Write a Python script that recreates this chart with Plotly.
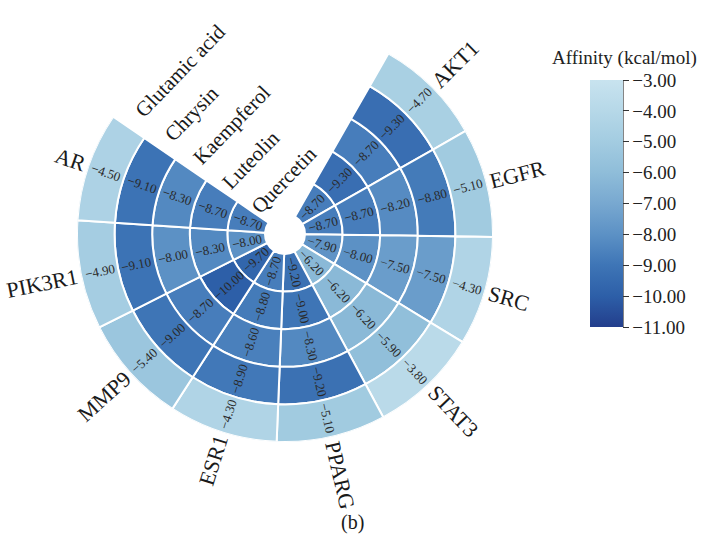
import math
import plotly.graph_objects as go

# ---- data -------------------------------------------------------------
targets = ["AKT1", "EGFR", "SRC", "STAT3", "PPARG", "ESR1", "MMP9", "PIK3R1", "AR"]
ligands = ["Quercetin", "Luteolin", "Kaempferol", "Chrysin", "Glutamic acid"]

quercetin = [-8.70, -8.70, -7.90, -6.20, -9.20, -8.70, -9.70, -8.00, -8.70]
luteolin = [-9.30, -8.70, -8.00, -6.20, -9.00, -8.80, -10.00, -8.30, -8.70]
kaempferol = [-8.70, -8.20, -7.50, -6.20, -8.30, -8.60, -8.70, -8.00, -8.30]
chrysin = [-9.30, -8.80, -7.50, -5.90, -9.20, -8.90, -9.00, -9.10, -9.10]
glutamic_acid = [-4.70, -5.10, -4.30, -3.80, -5.10, -4.30, -5.40, -4.90, -4.50]

rings = [quercetin, luteolin, kaempferol, chrysin, glutamic_acid]
cbar_ticks = [-3, -4, -5, -6, -7, -8, -9, -10, -11]

# ---- geometry ---------------------------------------------------------
W, H = 705, 543
CX, CY = 285, 234          # centre of the polar plot (px)
R_OUT = 208                # outer radius (px) == radial range max
HOLE = 20                  # inner hole radius
RING = (R_OUT - HOLE) / len(rings)
START = 29.8               # angle where the first wedge starts (deg, clockwise from north)
SPAN = 30.5                # angular width of each wedge
centers = [START + SPAN * (i + 0.5) for i in range(len(targets))]

# colour bar box (px)
CB_X0, CB_TOP, CB_BOT, CB_THICK = 590, 80, 327, 33

FONT = "Liberation Serif, Times New Roman, DejaVu Serif, serif"
LABEL_SIZE = 22

colorscale = [
    [0.000, "rgb(35,62,140)"],
    [0.125, "rgb(45,95,168)"],
    [0.250, "rgb(62,117,182)"],
    [0.375, "rgb(92,145,197)"],
    [0.500, "rgb(120,168,208)"],
    [0.625, "rgb(143,189,217)"],
    [0.750, "rgb(163,204,225)"],
    [0.875, "rgb(182,216,232)"],
    [1.000, "rgb(200,227,239)"],
]

# Times-compatible advance widths (per em) for sizing rotated labels
_W = {" ": .25, "(": .333, ")": .333, "/": .278, "−": .564, ".": .25,
      "A": .722, "C": .667, "E": .611, "F": .556, "G": .722, "I": .333, "K": .722,
      "L": .611, "M": .889, "P": .556, "Q": .722, "R": .667, "S": .556, "T": .611,
      "a": .444, "c": .444, "d": .5, "e": .444, "f": .333, "h": .5, "i": .278,
      "k": .5, "l": .278, "m": .778, "n": .5, "o": .5, "p": .5, "r": .333,
      "s": .389, "t": .278, "u": .5, "y": .5}


def text_width(s, size):
    return sum(_W.get(ch, .5) for ch in s) * size


def to_paper(r, theta):
    t = math.radians(theta)
    px = CX + r * math.sin(t)
    py = CY - r * math.cos(t)
    return px / W, 1 - py / H


def radial_angle(theta):
    th = theta % 360
    return th - 90 if th < 180 else th - 270


def fmt(v):
    return f"{v:.2f}".replace("-", "−")


fig = go.Figure()

for k, (name, vals) in enumerate(zip(ligands, rings)):
    fig.add_trace(go.Barpolar(
        name=name,
        theta=centers,
        r=[RING] * len(vals),
        base=[HOLE + k * RING] * len(vals),
        width=[SPAN] * len(vals),
        marker=dict(
            color=vals,
            colorscale=colorscale,
            cmin=-11, cmax=-3,
            line=dict(color="white", width=2),
            showscale=(k == 0),
            colorbar=dict(
                tickvals=cbar_ticks,
                ticktext=[fmt(v) for v in cbar_ticks],
                ticks="outside", ticklen=6, tickwidth=1, tickcolor="#333",
                tickfont=dict(family=FONT, size=19, color="#222"),
                outlinewidth=0,
                thicknessmode="pixels", thickness=CB_THICK,
                lenmode="pixels", len=CB_BOT - CB_TOP,
                x=CB_X0 / W, xanchor="left", xpad=0,
                y=1 - CB_TOP / H, yanchor="top", ypad=0,
            ),
        ),
        hoverinfo="skip",
    ))

annotations = []

# value labels inside each cell
for k, vals in enumerate(rings):
    rm = HOLE + (k + 0.5) * RING
    for th, v in zip(centers, vals):
        x, y = to_paper(rm, th)
        annotations.append(dict(
            x=x, y=y, xref="paper", yref="paper", text=fmt(v), showarrow=False,
            textangle=radial_angle(th), xanchor="center", yanchor="middle",
            font=dict(family=FONT, size=13, color="#2a2a2a"),
        ))

# target names outside the outer ring
for th, name in zip(centers, targets):
    w = text_width(name, LABEL_SIZE)
    x, y = to_paper(R_OUT + 4 + w / 2, th)
    annotations.append(dict(
        x=x, y=y, xref="paper", yref="paper", text=name, showarrow=False,
        textangle=radial_angle(th), xanchor="center", yanchor="middle",
        font=dict(family=FONT, size=LABEL_SIZE, color="#1a1a1a"),
    ))

# ligand names in the open sector
LIG_ANGLE = START + SPAN * len(targets) + 5.2
LIG_TILT = -46
for k, name in enumerate(ligands):
    rm = HOLE + (k + 0.5) * RING
    t = math.radians(LIG_ANGLE)
    sx, sy = CX + rm * math.sin(t), CY - rm * math.cos(t)
    w = text_width(name, 21)
    a = math.radians(LIG_TILT)
    cx_ = sx + (w / 2) * math.cos(a)
    cy_ = sy + (w / 2) * math.sin(a)
    annotations.append(dict(
        x=cx_ / W, y=1 - cy_ / H, xref="paper", yref="paper", text=name,
        showarrow=False, textangle=LIG_TILT, xanchor="center", yanchor="middle",
        font=dict(family=FONT, size=21, color="#1a1a1a"),
    ))

# colour bar title
annotations.append(dict(
    x=624 / W, y=1 - 58 / H, xref="paper", yref="paper",
    text="Affinity (kcal/mol)", showarrow=False,
    xanchor="center", yanchor="middle",
    font=dict(family=FONT, size=19, color="#222"),
))

annotations.append(dict(
    x=353 / W, y=1 - 522 / H, xref="paper", yref="paper", text="(b)",
    showarrow=False, xanchor="center", yanchor="middle",
    font=dict(family=FONT, size=20, color="#1a1a1a"),
))

fig.update_layout(
    width=W, height=H,
    margin=dict(l=0, r=0, t=0, b=0, autoexpand=False),
    paper_bgcolor="white",
    showlegend=False,
    font=dict(family=FONT),
    polar=dict(
        domain=dict(x=[(CX - R_OUT) / W, (CX + R_OUT) / W],
                    y=[1 - (CY + R_OUT) / H, 1 - (CY - R_OUT) / H]),
        bgcolor="white",
        bargap=0,
        radialaxis=dict(range=[0, R_OUT], visible=False, showgrid=False),
        angularaxis=dict(direction="clockwise", rotation=90, visible=False,
                         showgrid=False),
    ),
    annotations=annotations,
    shapes=[dict(type="line", xref="paper", yref="paper",
                 x0=(CB_X0 + CB_THICK) / W, x1=(CB_X0 + CB_THICK) / W,
                 y0=1 - CB_TOP / H, y1=1 - CB_BOT / H,
                 line=dict(color="#333", width=1.2))],
)

fig.write_html("out.html")
